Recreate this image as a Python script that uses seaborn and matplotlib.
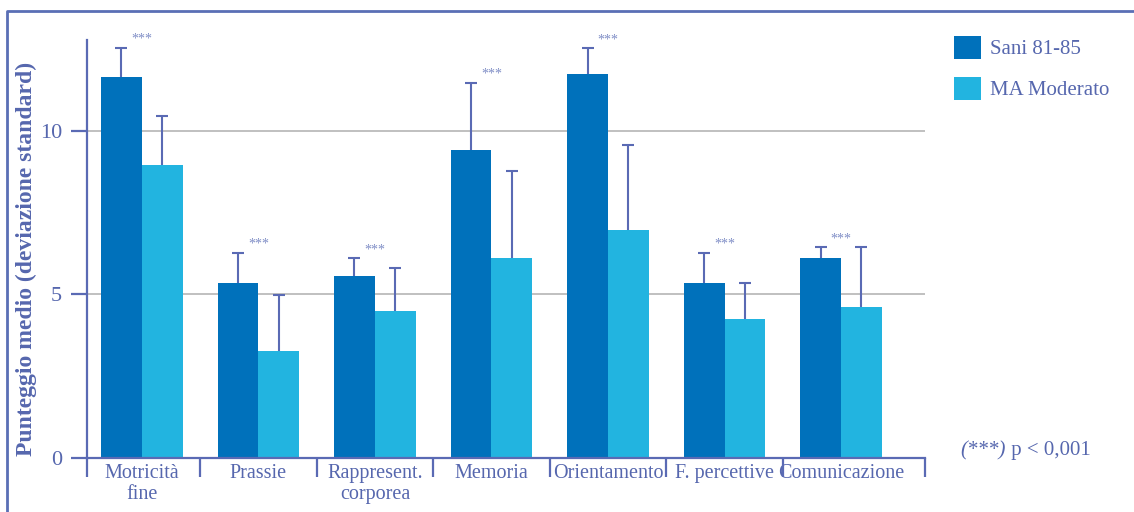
import numpy as np
import pandas as pd
import matplotlib
matplotlib.use('Agg')
import matplotlib.pyplot as plt
from matplotlib.lines import Line2D
from matplotlib.ticker import FixedLocator
import seaborn as sns

# Dati: media e deviazione standard per area
aree = ['Motricità\nfine', 'Prassie', 'Rappresent.\ncorporea', 'Memoria',
        'Orientamento', 'F. percettive', 'Comunicazione']
gruppi = ['Sani 81-85', 'MA Moderato']
sani_media = [11.65, 5.35, 5.56, 9.41, 11.73, 5.35, 6.12]
sani_ds    = [0.89, 0.93, 0.54, 2.07, 0.80, 0.93, 0.33]
ma_media   = [8.96, 3.27, 4.50, 6.12, 6.97, 4.25, 4.62]
ma_ds      = [1.50, 1.71, 1.30, 2.64, 2.59, 1.11, 1.83]
yticks = [0, 5, 10]

DARK  = '#0071BB'
LIGHT = '#22B4E0'
TXT   = '#5667AE'
AXC   = '#5A6AB4'

sns.set_style('white')
plt.rcParams['font.family'] = ['Liberation Serif', 'DejaVu Serif']

df = pd.DataFrame({
    'area': aree * 2,
    'gruppo': [gruppi[0]] * len(aree) + [gruppi[1]] * len(aree),
    'media': sani_media + ma_media,
})

W, H = 1134, 512
fig = plt.figure(figsize=(W / 100, H / 100), dpi=100)
ax = fig.add_axes([87 / W, 54 / H, (925 - 87) / W, (458 - 40) / H])

sns.barplot(data=df, x='area', y='media', hue='gruppo', order=aree, hue_order=gruppi,
            palette=[DARK, LIGHT], saturation=1, errorbar=None, width=0.7,
            linewidth=0, edgecolor='none', ax=ax, legend=True)

# error bars (solo verso l'alto) sopra le barre disegnate da seaborn
tops = np.zeros(len(aree))
centers = np.zeros((2, len(aree)))
for gi, (cont, sd) in enumerate(zip(ax.containers, [sani_ds, ma_ds])):
    xs = np.array([p.get_x() + p.get_width() / 2 for p in cont.patches])
    hs = np.array([p.get_height() for p in cont.patches])
    eb = ax.errorbar(xs, hs, yerr=[np.zeros(len(sd)), sd], fmt='none', ecolor=AXC,
                     elinewidth=1.5, capsize=4.3, capthick=1.5, zorder=3)
    for cl in eb.lines[1]:
        if np.allclose(cl.get_ydata(), hs):
            cl.set_visible(False)
    tops = np.maximum(tops, hs + np.array(sd))
    centers[gi] = xs

for i in range(len(aree)):
    ax.text(centers[:, i].mean(), tops[i] + 0.15, '***', ha='center', va='baseline',
            fontsize=10, color='#7F8DC6')

x0, x1 = -0.47, len(aree) - 0.28
ax.set_ylim(0, 12.78)
ax.set_xlim(x0, x1)
ax.set_yticks(yticks)
ax.set_yticklabels([str(v) for v in yticks], fontsize=16, color=TXT)
ax.yaxis.grid(True, color='#B5B5B5', linewidth=1.2)
ax.set_axisbelow(True)

seps = [x0] + list(np.arange(0.5, len(aree) - 1, 1.0)) + [x1]
ax.xaxis.set_minor_locator(FixedLocator(seps))
ax.tick_params(axis='x', which='major', bottom=True, length=0, pad=4, labelsize=14.5,
               labelcolor=TXT)
ax.tick_params(axis='x', which='minor', bottom=True, length=14, width=1.6, color=AXC,
               direction='out')
ax.tick_params(axis='y', length=11.5, width=1.6, color=AXC, pad=6.5, left=True)
ax.set_xlabel('')
ax.set_ylabel('Punteggio medio (deviazione standard)', fontsize=17, fontweight='bold',
              color=TXT)
ax.yaxis.set_label_coords(-0.06, 0.477)

for s in ['top', 'right']:
    ax.spines[s].set_visible(False)
for s in ['left', 'bottom']:
    ax.spines[s].set_color(AXC)
    ax.spines[s].set_linewidth(1.6)

# legenda a destra
handles, labels = ax.get_legend_handles_labels()
ax.legend_.remove()
fig.legend(handles, labels, loc='upper left', bbox_to_anchor=(954 / W, 1 - 36 / H),
           frameon=False, fontsize=15, labelcolor=TXT, handlelength=1.3,
           handleheight=1.3, handletextpad=0.45, labelspacing=0.85,
           borderpad=0, borderaxespad=0)

# nota sulla significatività
t1 = fig.text(960 / W, 1 - 455 / H, '(***)', fontsize=15, style='italic', color=TXT,
              ha='left', va='baseline')
ax.annotate(' p < 0,001', xy=(1, 0), xycoords=t1, fontsize=15, color=TXT,
            ha='left', va='bottom', annotation_clip=False)

# cornice
fig.add_artist(Line2D([7 / W, 7 / W, 1], [0, 1 - 11 / H, 1 - 11 / H],
                      transform=fig.transFigure, color='#5A6FB5', linewidth=2))

fig.savefig('out.png', dpi=100)
